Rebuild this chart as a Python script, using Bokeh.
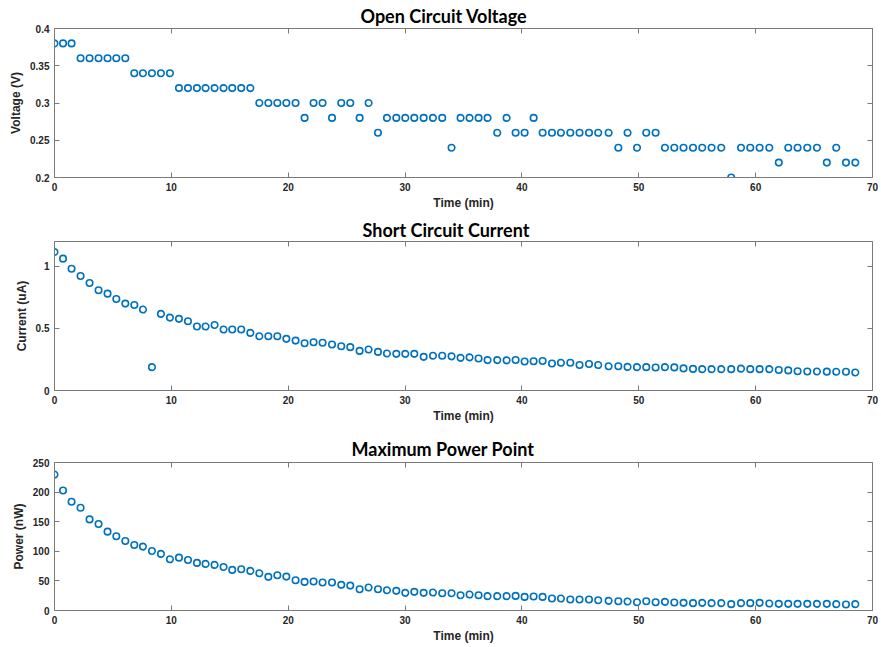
from bokeh.plotting import figure
from bokeh.layouts import column
from bokeh.models import Range1d, FixedTicker, LinearAxis
from bokeh.embed import file_html
from bokeh.resources import INLINE

# ---- data ----
time_min = [0.00, 0.73, 1.46, 2.23, 3.00, 3.77, 4.54, 5.29, 6.06, 6.83,
            7.57, 8.34, 9.11, 9.88, 10.65, 11.42, 12.19, 12.93, 13.70, 14.47,
            15.21, 15.98, 16.76, 17.53, 18.30, 19.07, 19.84, 20.63, 21.40, 22.17,
            22.94, 23.75, 24.54, 25.31, 26.11, 26.88, 27.68, 28.45, 29.25, 30.02,
            30.79, 31.59, 32.39, 33.18, 33.98, 34.75, 35.52, 36.29, 37.06, 37.89,
            38.69, 39.46, 40.23, 41.00, 41.77, 42.57, 43.34, 44.14, 44.93, 45.74,
            46.53, 47.42, 48.25, 49.04, 49.85, 50.64, 51.44, 52.24, 53.04, 53.83,
            54.64, 55.43, 56.23, 57.06, 57.91, 58.75, 59.54, 60.34, 61.17, 61.98,
            62.79, 63.59, 64.42, 65.25, 66.09, 66.90, 67.73, 68.53]

voltage_v = [0.38, 0.38, 0.38, 0.36, 0.36, 0.36, 0.36, 0.36, 0.36, 0.34,
             0.34, 0.34, 0.34, 0.34, 0.32, 0.32, 0.32, 0.32, 0.32, 0.32,
             0.32, 0.32, 0.32, 0.30, 0.30, 0.30, 0.30, 0.30, 0.28, 0.30,
             0.30, 0.28, 0.30, 0.30, 0.28, 0.30, 0.26, 0.28, 0.28, 0.28,
             0.28, 0.28, 0.28, 0.28, 0.24, 0.28, 0.28, 0.28, 0.28, 0.26,
             0.28, 0.26, 0.26, 0.28, 0.26, 0.26, 0.26, 0.26, 0.26, 0.26,
             0.26, 0.26, 0.24, 0.26, 0.24, 0.26, 0.26, 0.24, 0.24, 0.24,
             0.24, 0.24, 0.24, 0.24, 0.20, 0.24, 0.24, 0.24, 0.24, 0.22,
             0.24, 0.24, 0.24, 0.24, 0.22, 0.24, 0.22, 0.22]

current_ua = [1.116, 1.062, 0.981, 0.922, 0.866, 0.807, 0.780, 0.737, 0.700, 0.689,
              0.652, 0.188, 0.617, 0.587, 0.577, 0.558, 0.515, 0.515, 0.528, 0.491,
              0.491, 0.491, 0.464, 0.437, 0.437, 0.437, 0.416, 0.402, 0.381, 0.389,
              0.384, 0.371, 0.356, 0.349, 0.319, 0.330, 0.311, 0.298, 0.295, 0.295,
              0.295, 0.271, 0.280, 0.280, 0.275, 0.263, 0.267, 0.258, 0.245, 0.245,
              0.243, 0.246, 0.233, 0.236, 0.237, 0.218, 0.223, 0.223, 0.205, 0.214,
              0.205, 0.195, 0.195, 0.190, 0.188, 0.188, 0.185, 0.188, 0.186, 0.178,
              0.174, 0.172, 0.172, 0.172, 0.172, 0.176, 0.172, 0.172, 0.172, 0.165,
              0.162, 0.155, 0.153, 0.153, 0.152, 0.151, 0.151, 0.145]

power_nw = [229.7, 202.8, 183.7, 173.6, 153.9, 146.1, 133.2, 125.3, 117.4, 110.7,
            107.9, 100.6, 95.6, 86.5, 89.3, 85.4, 80.4, 78.7, 77.0, 73.6,
            68.6, 69.7, 66.9, 62.9, 56.8, 59.5, 57.3, 51.1, 48.3, 48.9,
            47.2, 47.2, 43.3, 42.1, 35.9, 38.8, 35.9, 34.2, 33.2, 29.8,
            31.5, 29.8, 30.3, 29.2, 29.2, 25.8, 27.0, 25.8, 24.2, 24.2,
            24.2, 24.7, 23.0, 23.6, 23.0, 20.2, 20.2, 18.5, 18.5, 18.5,
            17.4, 16.3, 15.7, 15.2, 14.0, 15.7, 14.0, 14.6, 13.5, 12.9,
            12.4, 12.9, 12.4, 12.4, 10.7, 12.4, 12.4, 12.9, 11.8, 11.2,
            11.2, 11.2, 11.2, 11.2, 11.2, 10.7, 10.1, 10.7]

x_ticks = [0, 10, 20, 30, 40, 50, 60, 70]
v_ticks = [0.2, 0.25, 0.3, 0.35, 0.4]
v_tick_labels = ["0.2", "0.25", "0.3", "0.35", "0.4"]
i_ticks = [0, 0.5, 1]
i_tick_labels = ["0", "0.5", "1"]
p_ticks = [0, 50, 100, 150, 200, 250]
p_tick_labels = ["0", "50", "100", "150", "200", "250"]

titles = ["Open Circuit Voltage", "Short Circuit Current", "Maximum Power Point"]
y_labels = ["Voltage (V)", "Current (uA)", "Power (nW)"]
x_label = "Time (min)"

BLUE = "#0072BD"
AX = "#7a7a7a"
TXT = "#262626"


def style_axis(ax, font_size="10px"):
    ax.axis_line_color = AX
    ax.major_tick_line_color = AX
    ax.major_tick_in = 5
    ax.major_tick_out = 0
    ax.minor_tick_line_color = None
    ax.major_label_text_font = "Liberation Sans"
    ax.major_label_text_font_style = "bold"
    ax.major_label_text_font_size = font_size
    ax.major_label_text_color = TXT
    ax.axis_label_text_font = "Liberation Sans"
    ax.axis_label_text_font_style = "bold"
    ax.axis_label_text_font_size = "12px"
    ax.axis_label_text_color = TXT


def make_panel(height, top, bottom, y_lo, y_hi, yt, ytl, ys, title, ylabel,
               title_offset, title_standoff):
    p = figure(width=881, height=height,
               x_range=Range1d(0, 70), y_range=Range1d(y_lo, y_hi),
               output_backend="svg", toolbar_location=None,
               min_border_left=54, min_border_right=9,
               min_border_top=top, min_border_bottom=bottom,
               x_axis_label=x_label, y_axis_label=ylabel)
    p.grid.visible = False
    p.outline_line_color = AX
    p.outline_line_width = 1
    p.background_fill_color = "white"
    p.border_fill_color = "white"

    p.xaxis.ticker = FixedTicker(ticks=x_ticks)
    p.yaxis.ticker = FixedTicker(ticks=yt)
    p.yaxis.major_label_overrides = {t: l for t, l in zip(yt, ytl)}
    for ax in p.xaxis + p.yaxis:
        style_axis(ax)
    p.xaxis.major_label_standoff = 5
    p.xaxis.axis_label_standoff = 2
    p.yaxis.major_label_standoff = 5
    p.yaxis.axis_label_standoff = 4

    top_ax = LinearAxis(ticker=FixedTicker(ticks=x_ticks))
    style_axis(top_ax, "0px")
    top_ax.axis_line_color = None
    top_ax.major_label_standoff = 0
    top_ax.major_label_overrides = {t: "" for t in x_ticks}
    p.add_layout(top_ax, "above")

    right_ax = LinearAxis(ticker=FixedTicker(ticks=yt))
    style_axis(right_ax, "0px")
    right_ax.axis_line_color = None
    right_ax.major_label_standoff = 0
    right_ax.major_label_overrides = {t: "" for t in yt}
    p.add_layout(right_ax, "right")

    p.title.text = title
    p.title.text_font = "Lato"
    p.title.text_font_style = "bold"
    p.title.text_font_size = "18px"
    p.title.text_color = "black"
    p.title.align = "left"
    p.title.offset = title_offset
    p.title.standoff = title_standoff

    p.scatter(time_min, ys, marker="circle", size=6.5, fill_color=None,
              line_color=BLUE, line_width=1.6)
    return p


p1 = make_panel(215, 28, 38, 0.2, 0.4, v_ticks, v_tick_labels, voltage_v,
                titles[0], y_labels[0], 306, 3)
p2 = make_panel(217, 26, 42, 0, 1.2, i_ticks, i_tick_labels, current_ua,
                titles[1], y_labels[1], 308, 2)
p3 = make_panel(215, 30, 37, 0, 250, p_ticks, p_tick_labels, power_nw,
                titles[2], y_labels[2], 297, 5)

layout = column(p1, p2, p3, spacing=0)
open("out.html", "w").write(file_html(layout, INLINE))
